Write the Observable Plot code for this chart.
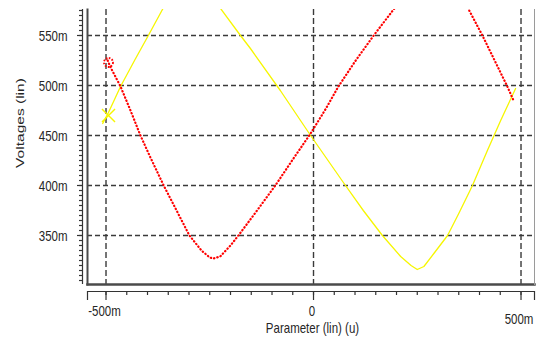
<!DOCTYPE html>
<html>
<head>
<meta charset="utf-8">
<script src="https://cdn.jsdelivr.net/npm/d3@7"></script>
<script src="https://cdn.jsdelivr.net/npm/@observablehq/plot@0.6"></script>
<style>
  html, body { margin: 0; padding: 0; background: #fff; }
  #chart svg { display: block; }
</style>
</head>
<body>
<div id="chart"></div>
<script>
// ---- data ----
const yellowX = [-508, -494, -465, -430, -398, -364, -340, -320, -300, -280, -250, -224, -176, -152, -80, -7, 72, 120, 166, 210, 235, 250, 266, 290, 323, 350, 383, 419, 451, 487];
const yellowY = [462, 473, 499, 526, 550, 576, 592, 601, 606, 604, 593, 577, 550, 537, 495, 450, 403, 375, 350, 329, 320, 316, 319, 332, 350, 372, 400, 435, 465, 497];

const redX = [-496, -490, -465, -441, -417, -393, -361, -330, -299, -270, -250, -241, -225, -200, -181, -136, -92, -50, -7, 30, 60, 100, 145, 193, 240, 270, 296, 320, 350, 374, 407, 440, 467, 482];
const redY = [525, 519, 499, 475, 450, 428, 400, 375, 350, 335, 328, 327, 329, 340, 350, 375, 400, 426, 452, 477, 499, 524, 550, 576, 603, 614, 617, 613, 595, 576, 550, 522, 499, 485];

const markerX = [-494, -494];
const markerY = [470, 523];
const markerSeries = ["yellow", "red"];

const yTicks = [350, 400, 450, 500, 550];
const yTickLabels = ["350m", "400m", "450m", "500m", "550m"];
const xTicks = [-500, 0, 500];
const xTickLabels = ["-500m", "0", "500m"];
const xTitle = "Parameter (lin) (u)";
const yTitle = "Voltages (lin)";

const xDomain = [-544.6, 532.5];
const yDomain = [301, 576];

// ---- build ----
const yellowData = yellowX.map((x, i) => ({x, y: yellowY[i]}));
const redData = redX.map((x, i) => ({x, y: redY[i]}));
const markers = markerX.map((x, i) => ({x, y: markerY[i], s: markerSeries[i]}));
const yMinor = d3.range(305, 576, 5);
const xMinor = d3.range(-500, 501, 50);

const gridStyle = {stroke: "#3a3a3a", strokeOpacity: 1, strokeWidth: 1.4};
const textColor = "#262626";
const fs = 11.5;

const chart = Plot.plot({
  width: 539,
  height: 344,
  marginLeft: 87,
  marginRight: 5,
  marginTop: 9,
  marginBottom: 60,
  style: {background: "#fff", fontFamily: "'Liberation Sans', Arial, sans-serif", fontSize: "11.5px"},
  x: {domain: xDomain, axis: null},
  y: {domain: yDomain, axis: null},
  marks: [
    // grid
    Plot.gridY(yTicks, {...gridStyle, strokeDasharray: "5,3"}),
    Plot.gridX(xTicks, {...gridStyle, strokeDasharray: "6,3"}),
    // frame
    Plot.frame({anchor: "left", stroke: "#4a4a4a", strokeWidth: 2}),
    Plot.frame({anchor: "bottom", stroke: "#4a4a4a", strokeWidth: 2.5}),
    Plot.frame({anchor: "right", stroke: "#9a9a9a", strokeWidth: 1}),
    // y axis line + ticks (offset left of frame)
    Plot.ruleX([xDomain[0]], {dx: -5, stroke: "#333", strokeWidth: 1.2}),
    Plot.axisY({ticks: yMinor, tickSize: 3, tickFormat: () => "", label: null, dx: -5, stroke: "#333", strokeWidth: 1.2}),
    Plot.axisY({ticks: yTicks, tickSize: 5, tickFormat: () => "", label: null, dx: -5, stroke: "#333", strokeWidth: 1.2}),
    // x axis line + ticks (offset below frame)
    Plot.ruleY([yDomain[0]], {dy: 7, stroke: "#333", strokeWidth: 1.2}),
    Plot.axisX({ticks: xMinor, tickSize: 4, tickFormat: () => "", label: null, dy: 7, stroke: "#333", strokeWidth: 1.2}),
    Plot.axisX({ticks: [...xTicks, ...xDomain], tickSize: 9, tickFormat: () => "", label: null, dy: 7, stroke: "#333", strokeWidth: 1.2}),
    // curves
    Plot.line(yellowData, {x: "x", y: "y", stroke: "#f6f600", strokeWidth: 1.3, clip: true}),
    Plot.line(redData, {x: "x", y: "y", stroke: "#ff0000", strokeWidth: 2.2, strokeDasharray: "0.4,3", strokeLinecap: "round", clip: true}),
    // start markers
    Plot.dot(markers.filter(d => d.s === "yellow"), {x: "x", y: "y", symbol: "times", r: 6, stroke: "#f6f600", strokeWidth: 1.4}),
    Plot.dot(markers.filter(d => d.s === "red"), {x: "x", y: "y", symbol: "circle", r: 4.5, stroke: "#ff0000", strokeWidth: 1.8, strokeDasharray: "1.6,1.4", fill: "none"}),
    // tick labels
    Plot.text(yTicks, {y: d => d, text: (d, i) => yTickLabels[i], frameAnchor: "left", dx: -20, textAnchor: "end", fill: textColor, fontSize: fs}),
    Plot.text(xTicks.slice(0, 2), {x: d => d, text: (d, i) => xTickLabels[i], frameAnchor: "bottom", dx: -1.5, dy: 30, fill: textColor, fontSize: fs}),
    Plot.text(xTicks.slice(2), {x: d => d, text: (d, i) => xTickLabels[i + 2], frameAnchor: "bottom", dx: -2, dy: 38, fill: textColor, fontSize: fs}),
    // titles
    Plot.text([xTitle], {text: d => d, frameAnchor: "bottom", dx: 1.5, dy: 47, fill: textColor, fontSize: fs}),
    Plot.text([yTitle], {text: d => d, frameAnchor: "left", dx: -67, dy: -24, rotate: -90, textAnchor: "middle", fill: textColor, fontSize: fs})
  ]
});

document.getElementById("chart").appendChild(chart);

// the reference is stretched vertically: stretch each label the same way,
// about its own centre (in its local coordinates)
chart.querySelectorAll("text").forEach(el => {
  if (!el.textContent) return;
  const b = el.getBBox();
  const cx = b.x + b.width / 2, cy = b.y + b.height / 2;
  const t = el.getAttribute("transform") || "";
  const m = el.getCTM();
  const rotated = Math.abs(m.a) < 0.5;
  const s = rotated ? "scale(1.35,1)" : "scale(1,1.35)";
  el.setAttribute("transform", `${t} translate(${cx},${cy}) ${s} translate(${-cx},${-cy})`);
});
</script>
</body>
</html>
